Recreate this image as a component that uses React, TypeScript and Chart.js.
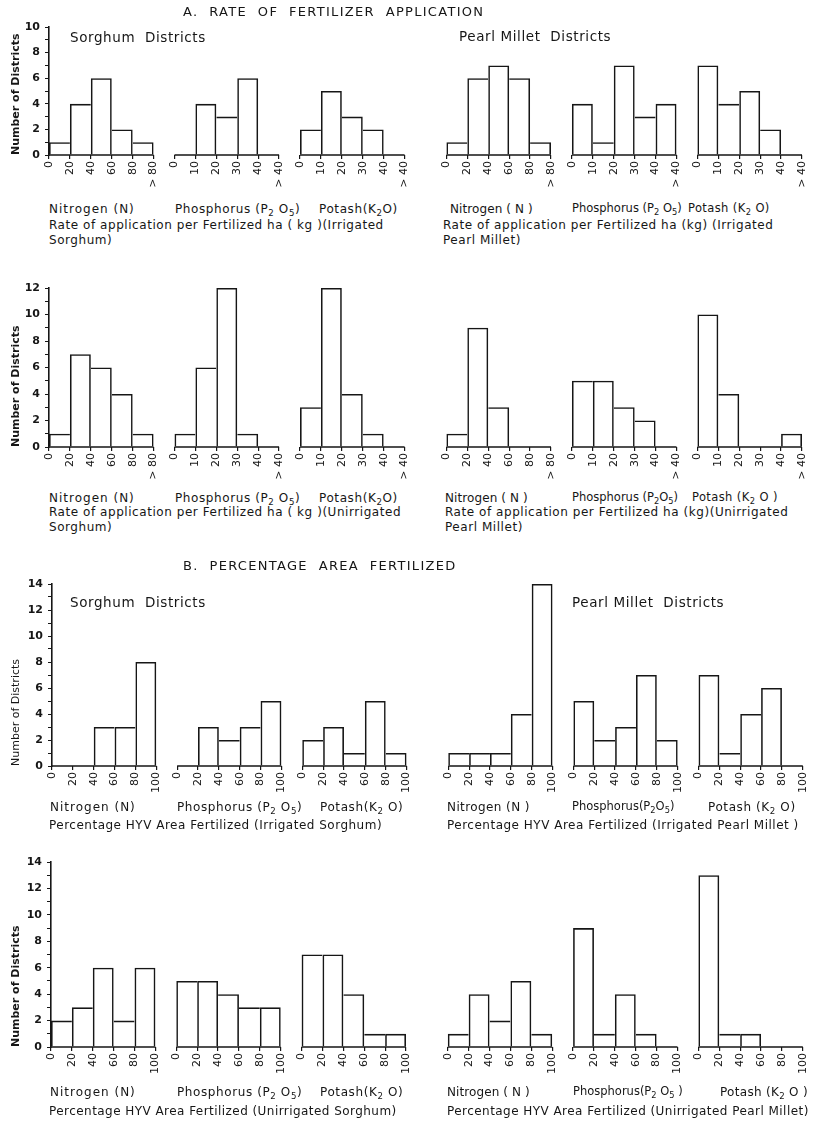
import React, { useEffect, useRef } from 'react';
import { Chart, registerables } from 'chart.js';

Chart.register(...registerables);

// Bin labels along the x axes
const rateTicksN = ['0', '20', '40', '60', '80', '> 80'];
const rateTicksPK = ['0', '10', '20', '30', '40', '> 40'];
const pctTicks = ['0', '20', '40', '60', '80', '100'];

// A. Rate of application per fertilized ha (kg) — number of districts per bin
const irrSorghumN = [1, 4, 6, 2, 1];
const irrSorghumP = [0, 4, 3, 6, 0];
const irrSorghumK = [2, 5, 3, 2, 0];
const irrMilletN = [1, 6, 7, 6, 1];
const irrMilletP = [4, 1, 7, 3, 4];
const irrMilletK = [7, 4, 5, 2, 0];

const unirrSorghumN = [1, 7, 6, 4, 1];
const unirrSorghumP = [1, 6, 12, 1, 0];
const unirrSorghumK = [3, 12, 4, 1, 0];
const unirrMilletN = [1, 9, 3, 0, 0];
const unirrMilletP = [5, 5, 3, 2, 0];
const unirrMilletK = [10, 4, 0, 0, 1];

// B. Percentage HYV area fertilized — number of districts per bin
const pctIrrSorghumN = [0, 0, 3, 3, 8];
const pctIrrSorghumP = [0, 3, 2, 3, 5];
const pctIrrSorghumK = [2, 3, 1, 5, 1];
const pctIrrMilletN = [1, 1, 1, 4, 14];
const pctIrrMilletP = [5, 2, 3, 7, 2];
const pctIrrMilletK = [7, 1, 4, 6, 0];

const pctUnirrSorghumN = [2, 3, 6, 2, 6];
const pctUnirrSorghumP = [5, 5, 4, 3, 3];
const pctUnirrSorghumK = [7, 7, 4, 1, 1];
const pctUnirrMilletN = [1, 4, 2, 5, 1];
const pctUnirrMilletP = [9, 1, 4, 1, 0];
const pctUnirrMilletK = [13, 1, 1, 0, 0];

const FONT = '"DejaVu Sans", "Liberation Sans", sans-serif';
const INK = '#161616';
const BW = 1.6;

// Each row holds six histograms on one shared linear axis (bin units):
// three sorghum panels, a gap, then three pearl millet panels.
const PANEL_START = [0, 6, 12, 19, 25, 31];
const AXIS_SPAN = 36;

type Panel = { values: number[]; ticks: string[] };
type RowSpec = {
  panels: Panel[];
  max: number;
  top: number;
  bottom: number;
  left: number;
  right: number;
  titleBold: boolean;
};

const rows: RowSpec[] = [
  {
    panels: [
      { values: irrSorghumN, ticks: rateTicksN },
      { values: irrSorghumP, ticks: rateTicksPK },
      { values: irrSorghumK, ticks: rateTicksPK },
      { values: irrMilletN, ticks: rateTicksN },
      { values: irrMilletP, ticks: rateTicksPK },
      { values: irrMilletK, ticks: rateTicksPK },
    ],
    max: 10, top: 27, bottom: 155, left: 49, right: 802, titleBold: true,
  },
  {
    panels: [
      { values: unirrSorghumN, ticks: rateTicksN },
      { values: unirrSorghumP, ticks: rateTicksPK },
      { values: unirrSorghumK, ticks: rateTicksPK },
      { values: unirrMilletN, ticks: rateTicksN },
      { values: unirrMilletP, ticks: rateTicksPK },
      { values: unirrMilletK, ticks: rateTicksPK },
    ],
    max: 12, top: 288, bottom: 447, left: 49, right: 802, titleBold: true,
  },
  {
    panels: [
      { values: pctIrrSorghumN, ticks: pctTicks },
      { values: pctIrrSorghumP, ticks: pctTicks },
      { values: pctIrrSorghumK, ticks: pctTicks },
      { values: pctIrrMilletN, ticks: pctTicks },
      { values: pctIrrMilletP, ticks: pctTicks },
      { values: pctIrrMilletK, ticks: pctTicks },
    ],
    max: 14, top: 584, bottom: 766, left: 52, right: 804, titleBold: false,
  },
  {
    panels: [
      { values: pctUnirrSorghumN, ticks: pctTicks },
      { values: pctUnirrSorghumP, ticks: pctTicks },
      { values: pctUnirrSorghumK, ticks: pctTicks },
      { values: pctUnirrMilletN, ticks: pctTicks },
      { values: pctUnirrMilletP, ticks: pctTicks },
      { values: pctUnirrMilletK, ticks: pctTicks },
    ],
    max: 14, top: 862, bottom: 1047, left: 51, right: 807, titleBold: true,
  },
];

const PAD_TOP = 12;
const X_AXIS_H = 42;
const CANVAS_W = 818;

function RowChart({ spec }: { spec: RowSpec }) {
  const ref = useRef<HTMLCanvasElement | null>(null);
  const height = PAD_TOP + (spec.bottom - spec.top) + X_AXIS_H;

  useEffect(() => {
    const canvas = ref.current;
    if (!canvas) return;

    const bars: any[] = [];
    const baseline: any[] = [];
    const tickValues: number[] = [];
    const tickText: Record<number, string> = {};

    spec.panels.forEach((panel, pi) => {
      const start = PANEL_START[pi];
      const vals = panel.values;
      vals.forEach((v, i) => {
        if (!v) return;
        const prev = i > 0 ? vals[i - 1] : 0;
        const next = i < vals.length - 1 ? vals[i + 1] : 0;
        // a shared edge is drawn once, by the taller neighbour
        bars.push({ x: start + i + 0.5, y: v, l: v >= prev, r: v > next });
      });
      baseline.push({ x: start, y: 0 }, { x: start + vals.length, y: 0 }, { x: start + vals.length + 0.5, y: null });
      panel.ticks.forEach((t, i) => {
        tickValues.push(start + i);
        tickText[start + i] = t;
      });
    });

    const chart = new Chart(canvas, {
      type: 'bar',
      data: {
        datasets: [
          {
            type: 'line',
            data: baseline,
            borderColor: INK,
            borderWidth: BW,
            pointRadius: 0,
            spanGaps: false,
            order: 0,
            clip: false,
          } as any,
          {
            type: 'bar',
            data: bars,
            backgroundColor: 'rgba(255,255,255,0)',
            borderColor: INK,
            borderWidth: (ctx: any) => {
              const d = ctx.raw || {};
              return { top: BW, bottom: 0, left: d.l ? BW : 0, right: d.r ? BW : 0 };
            },
            borderSkipped: false,
            categoryPercentage: 1,
            barPercentage: 1,
            inflateAmount: 0,
            order: 1,
            clip: false,
          } as any,
        ],
      },
      options: {
        animation: false,
        responsive: false,
        devicePixelRatio: 1,
        events: [],
        layout: { padding: { left: 0, top: PAD_TOP, right: CANVAS_W - spec.right, bottom: 0 } },
        plugins: { legend: { display: false }, tooltip: { enabled: false } },
        scales: {
          x: {
            type: 'linear',
            min: 0,
            max: AXIS_SPAN,
            offset: false,
            afterBuildTicks: (sc: any) => {
              sc.ticks = tickValues.map((v) => ({ value: v }));
            },
            afterFit: (sc: any) => {
              sc.height = X_AXIS_H;
            },
            border: { display: false },
            grid: { offset: false, drawOnChartArea: false, tickLength: 4, color: INK, lineWidth: 1.2 },
            ticks: {
              autoSkip: false,
              minRotation: 90,
              maxRotation: 90,
              padding: 2,
              color: INK,
              font: { family: FONT, size: 11 },
              callback: (v: any) => tickText[v as number] ?? '',
            },
          },
          y: {
            min: 0,
            max: spec.max,
            afterFit: (sc: any) => {
              sc.width = spec.left;
            },
            border: { display: true, color: INK, width: BW },
            grid: { drawOnChartArea: false, tickLength: 4, color: INK, lineWidth: 1 },
            ticks: {
              stepSize: 1,
              autoSkip: false,
              padding: 5,
              color: INK,
              font: { family: FONT, size: 11, weight: 'bold' },
              callback: (v: any) => (Number(v) % 2 === 0 ? String(v) : ''),
            },
            title: {
              display: true,
              text: 'Number of Districts',
              align: 'start',
              color: INK,
              font: { family: FONT, size: 11, weight: spec.titleBold ? 'bold' : 'normal' },
              padding: { top: 10, bottom: 0 },
            },
          },
        },
      } as any,
    });
    return () => chart.destroy();
  }, [spec]);

  return (
    <canvas
      ref={ref}
      width={CANVAS_W}
      height={height}
      style={{ position: 'absolute', left: 0, top: spec.top - PAD_TOP, width: CANVAS_W, height }}
    />
  );
}

function Label({ x, y, size = 12, bold = false, ls = 0, children }: any) {
  return (
    <div
      style={{
        position: 'absolute',
        left: x,
        top: y,
        transform: 'translateY(-50%)',
        fontSize: size,
        fontWeight: bold ? 'bold' : 'normal',
        letterSpacing: ls,
        whiteSpace: 'pre',
        lineHeight: 1,
      }}
    >
      {children}
    </div>
  );
}

const subStyle: React.CSSProperties = { fontSize: '0.72em', verticalAlign: '-0.3em', lineHeight: 0 };
const Sub = ({ children }: any) => <span style={subStyle}>{children}</span>;

const Nitro = ({ x, y, text = 'Nitrogen (N)', ls = 1.0 }: any) => (
  <Label x={x} y={y} ls={ls}>{text}</Label>
);
const Phos = ({ x, y, gap = ' ' }: any) => (
  <Label x={x} y={y} ls={0.6}>
    Phosphorus (P<Sub>2</Sub>{gap}O<Sub>5</Sub>)
  </Label>
);
const Pot = ({ x, y, gap = '' }: any) => (
  <Label x={x} y={y} ls={0.6}>
    Potash(K<Sub>2</Sub>{gap}O)
  </Label>
);

const CAP = 12;
const CAP_LS = 0.55;

export default function App() {
  return (
    <div
      style={{
        position: 'absolute',
        left: 0,
        top: 0,
        width: 818,
        height: 1121,
        background: '#fff',
        overflow: 'hidden',
        color: INK,
        fontFamily: FONT,
      }}
    >
      {rows.map((r, i) => (
        <RowChart key={i} spec={r} />
      ))}

      <Label x={183} y={11} size={13} ls={1.3}>A.  RATE  OF  FERTILIZER  APPLICATION</Label>
      <Label x={70} y={38} size={13.5} ls={0.6}>Sorghum  Districts</Label>
      <Label x={459} y={37} size={13.5} ls={0.6}>Pearl Millet  Districts</Label>

      <Nitro x={49} y={209} />
      <Phos x={175} y={209} />
      <Pot x={319} y={209} />
      <Nitro x={450} y={209} text="Nitrogen ( N )" ls={0.1} />
      <Label x={572} y={209} size={11.5}>Phosphorus (P<Sub>2</Sub> O<Sub>5</Sub>)</Label>
      <Label x={688} y={209} size={11.5} ls={0.4}>Potash (K<Sub>2</Sub> O)</Label>
      <Label x={49} y={225} size={CAP} ls={CAP_LS}>Rate of application per Fertilized ha ( kg )(Irrigated</Label>
      <Label x={49} y={240} size={CAP} ls={CAP_LS}>Sorghum)</Label>
      <Label x={443} y={225} size={CAP} ls={CAP_LS}>Rate of application per Fertilized ha (kg) (Irrigated</Label>
      <Label x={443} y={240} size={CAP} ls={CAP_LS}>Pearl Millet)</Label>

      <Nitro x={49} y={498} />
      <Phos x={175} y={498} />
      <Pot x={319} y={498} />
      <Nitro x={445} y={498} text="Nitrogen ( N )" ls={0.1} />
      <Label x={572} y={498} size={11.5}>Phosphorus (P<Sub>2</Sub>O<Sub>5</Sub>)</Label>
      <Label x={692} y={498} size={11.5} ls={0.4}>Potash (K<Sub>2</Sub> O )</Label>
      <Label x={49} y={512} size={CAP} ls={CAP_LS}>Rate of application per Fertilized ha ( kg )(Unirrigated</Label>
      <Label x={49} y={527} size={CAP} ls={CAP_LS}>Sorghum)</Label>
      <Label x={445} y={512} size={CAP} ls={CAP_LS}>Rate of application per Fertilized ha (kg)(Unirrigated</Label>
      <Label x={445} y={527} size={CAP} ls={CAP_LS}>Pearl Millet)</Label>

      <Label x={183} y={565} size={13} ls={1.3}>B.  PERCENTAGE  AREA  FERTILIZED</Label>
      <Label x={70} y={603} size={13.5} ls={0.6}>Sorghum  Districts</Label>
      <Label x={572} y={603} size={13.5} ls={0.6}>Pearl Millet  Districts</Label>

      <Nitro x={50} y={807} />
      <Phos x={177} y={807} />
      <Pot x={320} y={807} gap=" " />
      <Nitro x={447} y={807} text="Nitrogen (N )" ls={0.4} />
      <Label x={572} y={807} size={11.5}>Phosphorus(P<Sub>2</Sub>O<Sub>5</Sub>)</Label>
      <Label x={708} y={807} size={12} ls={0.6}>Potash (K<Sub>2</Sub> O)</Label>
      <Label x={49} y={825} size={CAP} ls={0.5}>Percentage HYV Area Fertilized (Irrigated Sorghum)</Label>
      <Label x={447} y={825} size={CAP} ls={0.5}>Percentage HYV Area Fertilized (Irrigated Pearl Millet )</Label>

      <Nitro x={50} y={1092} />
      <Phos x={177} y={1092} />
      <Pot x={320} y={1092} gap=" " />
      <Nitro x={447} y={1092} text="Nitrogen ( N )" ls={0.1} />
      <Label x={573} y={1092} size={11.5}>Phosphorus(P<Sub>2</Sub> O<Sub>5</Sub> )</Label>
      <Label x={720} y={1092} size={12} ls={0.3}>Potash (K<Sub>2</Sub> O )</Label>
      <Label x={49} y={1111} size={CAP} ls={0.45}>Percentage HYV Area Fertilized (Unirrigated Sorghum)</Label>
      <Label x={447} y={1111} size={CAP} ls={0.45}>Percentage HYV Area Fertilized (Unirrigated Pearl Millet)</Label>
    </div>
  );
}
